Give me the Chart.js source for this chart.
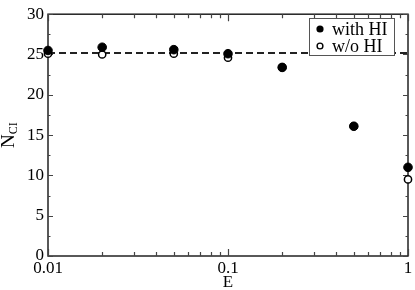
<!DOCTYPE html>
<html>
<head>
<meta charset="utf-8">
<script src="https://cdn.jsdelivr.net/npm/chart.js@4"></script>
<style>
  html, body { margin: 0; padding: 0; background: #fff; }
  #wrap { width: 415px; height: 290px; }
</style>
</head>
<body>
<div id="wrap"><canvas id="chart" width="415" height="290"></canvas></div>
<script>
// values
const eValues = [0.01, 0.02, 0.05, 0.1, 0.2, 0.5, 1];
const withHI = [25.5, 25.9, 25.6, 25.1, 23.4, 16.1, 11.0];
const withoutHI = [25.1, 25.0, 25.1, 24.6, 23.4, 16.1, 9.5];
const refLevel = 25.2;
const xTickLabels = [0.01, 0.1, 1];
const yTickLabels = [0, 5, 10, 15, 20, 25, 30];
const seriesNames = ['with HI', 'w/o HI'];

const SERIF = '"Liberation Serif", "DejaVu Serif", serif';
const pts = (ys) => eValues.map((x, i) => ({ x, y: ys[i] }));

// inward ticks on all four sides, frame, y title and legend
const frame = {
  id: 'frame',
  beforeDatasetsDraw(chart) {
    const { ctx, chartArea: a, scales: { x, y } } = chart;
    ctx.save();
    ctx.strokeStyle = '#222';
    ctx.lineWidth = 1.5;
    ctx.strokeRect(a.left, a.top, a.right - a.left, a.bottom - a.top);

    ctx.strokeStyle = '#444';
    ctx.lineWidth = 1.2;
    ctx.beginPath();
    for (let v = 0; v <= 30; v += 2.5) {
      const py = Math.round(y.getPixelForValue(v)) + 0.5;
      const len = v % 5 === 0 ? 5 : 2.5;
      ctx.moveTo(a.left, py); ctx.lineTo(a.left + len, py);
      ctx.moveTo(a.right, py); ctx.lineTo(a.right - len, py);
    }
    [0.01, 0.1].forEach((dec) => {
      for (let m = 1; m <= 10; m++) {
        const v = dec * m;
        if (v > 1.0001) continue;
        const px = Math.round(x.getPixelForValue(v)) + 0.5;
        const len = (m === 1 || m === 10) ? 7 : 4;
        ctx.moveTo(px, a.bottom); ctx.lineTo(px, a.bottom - len);
        ctx.moveTo(px, a.top); ctx.lineTo(px, a.top + len);
      }
    });
    ctx.stroke();

    // y title N_CI
    ctx.fillStyle = '#000';
    ctx.translate(9, (a.top + a.bottom) / 2);
    ctx.rotate(-Math.PI / 2);
    ctx.textBaseline = 'middle';
    ctx.font = '19px ' + SERIF;
    const nW = ctx.measureText('N').width;
    ctx.font = '12px ' + SERIF;
    const sW = ctx.measureText('CI').width;
    const start = -(nW + sW) / 2;
    ctx.font = '19px ' + SERIF;
    ctx.textAlign = 'left';
    ctx.fillText('N', start, 0);
    ctx.font = '12px ' + SERIF;
    ctx.fillText('CI', start + nW, 5);
    ctx.restore();
  },
  afterDraw(chart) {
    const { ctx } = chart;
    // legend box
    const lx = 309, ly = 18, lw = 85, lh = 37;
    ctx.save();
    ctx.fillStyle = '#fff';
    ctx.fillRect(lx, ly, lw, lh);
    ctx.strokeStyle = '#555';
    ctx.lineWidth = 1;
    ctx.strokeRect(lx + 0.5, ly + 0.5, lw, lh);
    ctx.font = '18px ' + SERIF;
    ctx.fillStyle = '#000';
    ctx.textBaseline = 'middle';
    seriesNames.forEach((name, i) => {
      const cy = ly + 11 + i * 17;
      ctx.beginPath();
      ctx.arc(lx + 11, cy, i === 0 ? 3.6 : 2.9, 0, Math.PI * 2);
      if (i === 0) { ctx.fillStyle = '#000'; ctx.fill(); }
      else { ctx.fillStyle = '#fff'; ctx.fill(); ctx.lineWidth = 1.4; ctx.strokeStyle = '#000'; ctx.stroke(); }
      ctx.fillStyle = '#000';
      ctx.fillText(name, lx + 23, cy + 1);
    });
    ctx.restore();
  }
};

new Chart(document.getElementById('chart'), {
  type: 'scatter',
  data: {
    datasets: [
      {
        label: seriesNames[0], data: pts(withHI), order: 0, clip: false,
        pointRadius: 4.3, pointBackgroundColor: '#000', pointBorderColor: '#000', pointBorderWidth: 1
      },
      {
        label: seriesNames[1], data: pts(withoutHI), order: 1, clip: false,
        pointRadius: 3.6, pointBackgroundColor: '#fff', pointBorderColor: '#000', pointBorderWidth: 1.5
      },
      {
        type: 'line', label: 'ref', order: 2,
        data: [{ x: 0.01, y: refLevel }, { x: 1, y: refLevel }],
        borderColor: '#222', borderWidth: 2, borderDash: [7, 4], pointRadius: 0, fill: false
      }
    ]
  },
  options: {
    responsive: false,
    animation: false,
    layout: { padding: { top: 9, right: 7, left: 0, bottom: 0 } },
    plugins: { legend: { display: false }, tooltip: { enabled: false } },
    scales: {
      x: {
        type: 'logarithmic', min: 0.01, max: 1,
        afterBuildTicks: (s) => { s.ticks = xTickLabels.map((v) => ({ value: v })); },
        afterFit: (s) => { s.height = 34; },
        grid: { display: false, drawTicks: false },
        border: { display: false },
        ticks: {
          color: '#000', font: { family: SERIF, size: 17 }, padding: 2,
          maxRotation: 0, autoSkip: false,
          callback: (v) => String(v)
        },
        title: { display: true, text: 'E', color: '#000', font: { family: SERIF, size: 17 }, padding: { top: 0, bottom: -3 } }
      },
      y: {
        min: 0, max: 30,
        afterBuildTicks: (s) => { s.ticks = yTickLabels.map((v) => ({ value: v })); },
        afterFit: (s) => { s.width = 48; },
        grid: { display: false, drawTicks: false },
        border: { display: false },
        ticks: { color: '#000', font: { family: SERIF, size: 17 }, padding: 4 }
      }
    }
  },
  plugins: [frame]
});
</script>
</body>
</html>
